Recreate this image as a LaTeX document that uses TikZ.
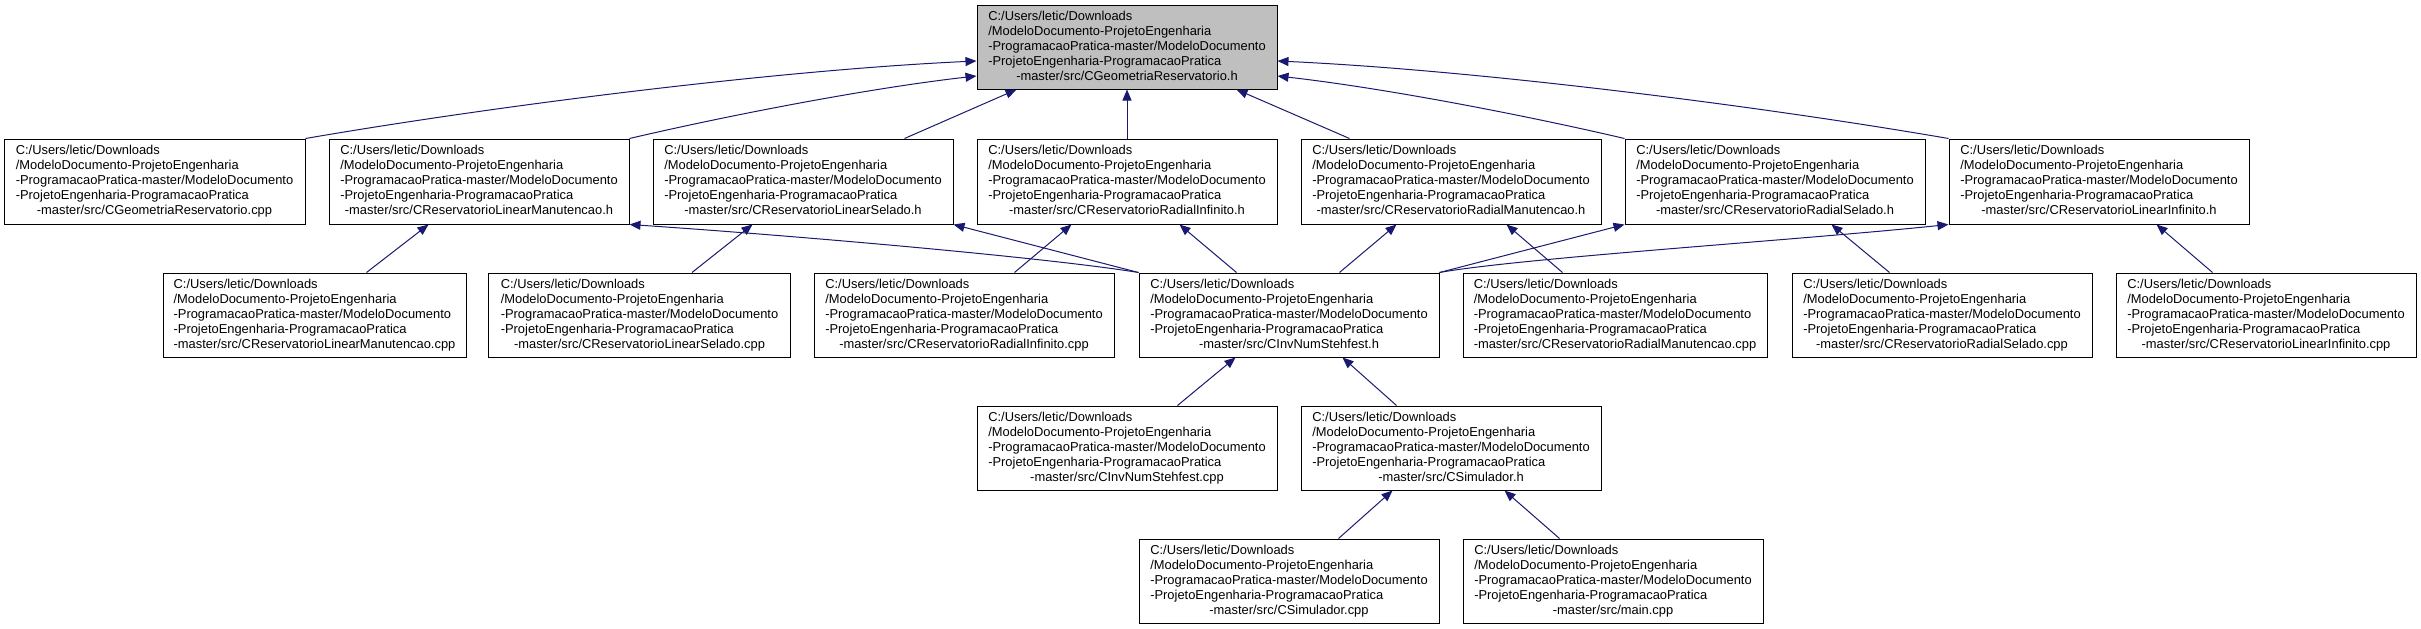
\documentclass[tikz,border=0pt]{standalone}
\usepackage{fontspec}
\setmainfont{Liberation Sans}
\usetikzlibrary{arrows.meta,calc}
\definecolor{edgeblue}{HTML}{191970}
\definecolor{topgray}{HTML}{BFBFBF}
\newcommand\fpath[1]{\begin{tabular}{@{}l@{}}C:/Users/letic/Downloads\\/ModeloDocumento-ProjetoEngenharia\\-ProgramacaoPratica-master/ModeloDocumento\\-ProjetoEngenharia-ProgramacaoPratica\\\multicolumn{1}{@{}c@{}}{-master/src/#1}\end{tabular}}
\tikzset{
  filebox/.style={draw=black, line width=1pt, rectangle, inner sep=0pt, minimum width=300pt, minimum height=84pt, font=\fontsize{12.9pt}{15pt}\selectfont, fill=white},
  edge/.style={draw=edgeblue, line width=1pt, -{Triangle[length=11pt,width=9pt]}},
}
\begin{document}
\begin{tikzpicture}[x=1pt,y=-1pt]
\useasboundingbox (0,0) rectangle (2421,629);
% top
\node[filebox, fill=topgray] (top) at (1127,47) {\fpath{CGeometriaReservatorio.h}};
% row 2
\node[filebox, minimum width=301pt, minimum height=85pt] (b1) at (154.5,181.5) {\fpath{CGeometriaReservatorio.cpp}};
\node[filebox, minimum height=85pt] (b2) at (479,181.5) {\fpath{CReservatorioLinearManutencao.h}};
\node[filebox, minimum height=85pt] (b3) at (803,181.5) {\fpath{CReservatorioLinearSelado.h}};
\node[filebox, minimum height=85pt] (b4) at (1127,181.5) {\fpath{CReservatorioRadialInfinito.h}};
\node[filebox, minimum height=85pt] (b5) at (1451,181.5) {\fpath{CReservatorioRadialManutencao.h}};
\node[filebox, minimum height=85pt] (b6) at (1775,181.5) {\fpath{CReservatorioRadialSelado.h}};
\node[filebox, minimum height=85pt] (b7) at (2099,181.5) {\fpath{CReservatorioLinearInfinito.h}};
% row 3
\node[filebox, minimum width=303pt] (c1) at (314.5,315) {\fpath{CReservatorioLinearManutencao.cpp}};
\node[filebox, minimum width=302pt] (c2) at (639.5,315) {\fpath{CReservatorioLinearSelado.cpp}};
\node[filebox] (c3) at (964,315) {\fpath{CReservatorioRadialInfinito.cpp}};
\node[filebox] (c4) at (1289,315) {\fpath{CInvNumStehfest.h}};
\node[filebox, minimum width=304pt] (c5) at (1615,315) {\fpath{CReservatorioRadialManutencao.cpp}};
\node[filebox] (c6) at (1942,315) {\fpath{CReservatorioRadialSelado.cpp}};
\node[filebox] (c7) at (2266,315) {\fpath{CReservatorioLinearInfinito.cpp}};
% row 4
\node[filebox] (d1) at (1127,448) {\fpath{CInvNumStehfest.cpp}};
\node[filebox] (d2) at (1451,448) {\fpath{CSimulador.h}};
% row 5
\node[filebox] (e1) at (1289,581) {\fpath{CSimulador.cpp}};
\node[filebox] (e2) at (1613,581) {\fpath{main.cpp}};
% edges to top
\draw[edge] (b1.north east) .. controls (500,105) and (780,70) .. ($(top.west)+(0,14)$);
\draw[edge] (b2.north east) .. controls (730,115) and (870,88) .. ($(top.west)+(0,29)$);
\draw[edge] ($(b3.north west)+(252,0)$) -- ($(top.south west)+(40,0)$);
\draw[edge] (b4.north) -- (top.south);
\draw[edge] ($(b5.north west)+(49,0)$) -- ($(top.south west)+(260,0)$);
\draw[edge] (b6.north west) .. controls (1524,115) and (1384,88) .. ($(top.east)+(0,29)$);
\draw[edge] (b7.north west) .. controls (1754,105) and (1474,70) .. ($(top.east)+(0,14)$);
% row 3 to row 2
\draw[edge] ($(c1.north west)+(204,0)$) -- ($(b2.south west)+(100,0)$);
\draw[edge] ($(c2.north west)+(204,0)$) -- ($(b3.south west)+(100,0)$);
\draw[edge] ($(c3.north west)+(201,0)$) -- ($(b4.south west)+(95,0)$);
\draw[edge] (c4.north west) .. controls (1050,258) and (800,236) .. (b2.south east);
\draw[edge] (c4.north west) -- (b3.south east);
\draw[edge] ($(c4.north west)+(98,0)$) -- ($(b4.south west)+(203,0)$);
\draw[edge] ($(c4.north west)+(201,0)$) -- ($(b5.south west)+(96,0)$);
\draw[edge] (c4.north east) -- (b6.south west);
\draw[edge] (c4.north east) .. controls (1520,258) and (1800,240) .. (b7.south west);
\draw[edge] ($(c5.north west)+(100,0)$) -- ($(b5.south west)+(206,0)$);
\draw[edge] ($(c6.north west)+(98,0)$) -- ($(b6.south west)+(207,0)$);
\draw[edge] ($(c7.north west)+(97,0)$) -- ($(b7.south west)+(208,0)$);
% row 4 to row 3
\draw[edge] ($(d1.north west)+(201,0)$) -- ($(c4.south west)+(97,0)$);
\draw[edge] ($(d2.north west)+(96,0)$) -- ($(c4.south west)+(204,0)$);
% row 5 to row 4
\draw[edge] ($(e1.north west)+(200,0)$) -- ($(d2.south west)+(92,0)$);
\draw[edge] ($(e2.north west)+(97,0)$) -- ($(d2.south west)+(204,0)$);
\end{tikzpicture}
\end{document}
